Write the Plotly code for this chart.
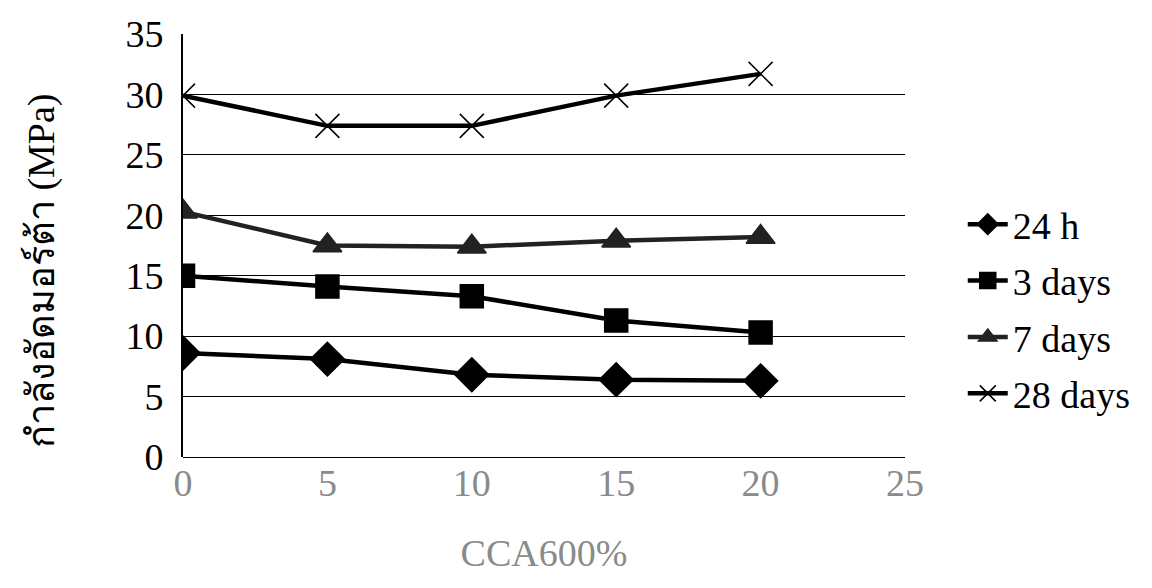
import plotly.graph_objects as go

x = [0, 5, 10, 15, 20]
h24 = [8.6, 8.1, 6.8, 6.4, 6.3]
d3 = [15.0, 14.1, 13.3, 11.3, 10.3]
d7 = [20.3, 17.5, 17.4, 17.9, 18.2]
d28 = [29.9, 27.4, 27.4, 29.9, 31.7]

series = [
    ("24 h", h24, "diamond", 26, "black"),
    ("3 days", d3, "square", 23, "black"),
    ("7 days", d7, "triangle-up", 25, "#222"),
    ("28 days", d28, "x-thin-open", 24, "black"),
]

FONT = "Liberation Serif, Times New Roman, serif"

fig = go.Figure()
for name, ys, sym, size, col in series:
    fig.add_trace(go.Scatter(
        x=x, y=ys, name=name, mode="lines+markers", legendgroup=name,
        line=dict(color=col, width=4.5),
        marker=dict(symbol=sym, size=size, color=col,
                    line=dict(color=col, width=1.5)),
    ))

fig.add_annotation(
    text="กำลังอัดมอร์ต้า (MPa)", textangle=-90,
    xref="paper", yref="paper", x=-0.195, y=0.44,
    xanchor="center", yanchor="middle", showarrow=False,
    font=dict(family=FONT, size=38, color="black"),
)

fig.update_layout(
    width=1152, height=588,
    margin=dict(l=183, r=247, t=34, b=131),
    paper_bgcolor="white", plot_bgcolor="white",
    font=dict(family=FONT, size=38, color="black"),
    showlegend=True,
    legend=dict(x=1.08, y=0.35, xanchor="left", yanchor="middle",
                font=dict(size=38, family=FONT, color="black"),
                tracegroupgap=4, itemwidth=40),
    xaxis=dict(range=[0, 25], tickvals=[0, 5, 10, 15, 20, 25],
               showgrid=False, zeroline=False, showline=False,
               ticks="", ticklabelstandoff=0,
               tickfont=dict(color="#8a8a8a", size=38),
               title=dict(text="CCA600%", font=dict(color="#8a8a8a", size=38),
                          standoff=36)),
    yaxis=dict(range=[0, 35], tickvals=[0, 5, 10, 15, 20, 25, 30, 35],
               showgrid=True, gridcolor="black", gridwidth=1,
               zeroline=True, zerolinecolor="black", zerolinewidth=1,
               showline=True, linecolor="black", linewidth=2,
               ticks="", ticklabelstandoff=10),
)

fig.write_html("out.html")
